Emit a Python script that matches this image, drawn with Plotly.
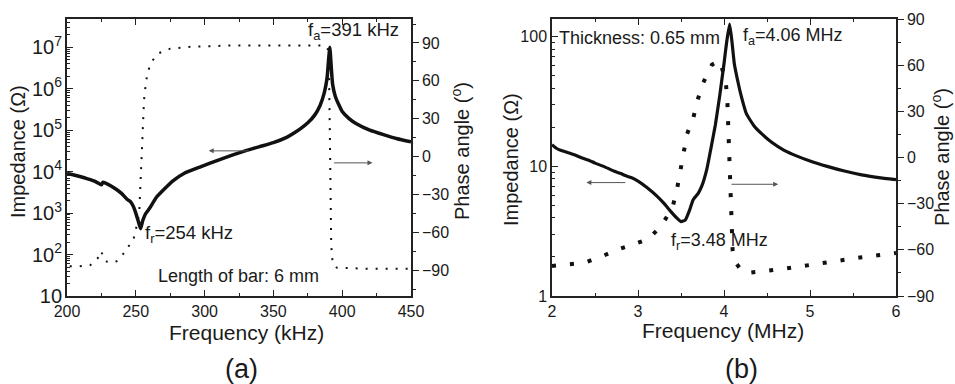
import plotly.graph_objects as go

# ---------------- data: panel (a) ----------------
freq_a_imp = [200, 205, 210, 215, 220, 224, 225, 226, 228, 232, 236, 240, 244, 246, 248, 250, 252, 253.5,
              255, 257, 260, 265, 270, 277, 285, 297, 310, 320, 330, 340, 350, 360, 365, 370, 375, 380,
              384, 387, 389, 390, 391, 392, 393, 395, 398, 400, 405, 410, 420, 430, 440, 450]
imp_a = [9000, 8300, 7500, 6700, 5900, 5000, 4800, 5500, 5300, 4500, 3700, 2900, 2100, 1900, 1500, 1000, 600, 420,
         650, 950, 1300, 2400, 3600, 6000, 9000, 13000, 19000, 25000, 32000, 40000, 50000, 68000, 85000, 110000,
         150000, 230000, 400000, 800000, 1800000, 4500000, 10000000, 3500000, 1300000, 650000, 380000, 280000,
         190000, 145000, 100000, 78000, 62000, 52000]

freq_a_ph = [202, 208, 217, 222, 224, 225, 226, 228, 232, 236, 240, 242, 244, 248, 250, 252.5, 253.3, 254.2,
             255, 256, 257.5, 259, 262, 267, 275, 290, 320, 385, 389.5, 390.5, 391, 391.5, 392, 393, 396, 420, 450]
phase_a = [-87, -87, -86, -81, -78, -75, -79, -83, -84, -83, -78, -76, -72, -67, -58, -45, -24, 0,
           25, 45, 60, 68, 76, 82, 85.5, 87, 88, 88, 86, 60, 20, -30, -70, -84, -88, -89, -89]

# ---------------- data: panel (b) ----------------
freq_b_imp = [2.0, 2.05, 2.1, 2.18, 2.26, 2.35, 2.42, 2.5, 2.6, 2.72, 2.8, 2.85, 2.92, 3.0, 3.1, 3.22, 3.3, 3.38,
              3.45, 3.5, 3.55, 3.6, 3.64, 3.7, 3.74, 3.8, 3.85, 3.9, 3.95, 3.97, 4.0, 4.03, 4.065, 4.09, 4.12,
              4.165, 4.2, 4.26, 4.35, 4.44, 4.55, 4.7, 4.85, 5.0, 5.2, 5.4, 5.6, 5.8, 6.0]
imp_b = [14.7, 13.8, 13.3, 12.8, 12.3, 11.6, 11.2, 10.6, 10.0, 9.2, 8.8, 8.5, 8.2, 7.7, 6.9, 5.9, 5.2, 4.5,
         4.0, 3.75, 3.85, 4.6, 5.5, 6.2, 7.0, 9.5, 14, 21, 35, 44, 62, 90, 125, 95, 62,
         44, 35, 25.5, 20.5, 17.8, 15.4, 13.3, 12.0, 11.0, 10.0, 9.2, 8.6, 8.2, 7.9]

freq_b_ph = [2.0, 2.17, 2.38, 2.59, 2.77, 2.95, 3.12, 3.27, 3.4, 3.45, 3.49, 3.53, 3.57, 3.64, 3.69, 3.76, 3.86,
             3.95, 4.02, 4.04, 4.05, 4.06, 4.07, 4.08, 4.1, 4.13, 4.2, 4.27, 4.49, 4.7, 4.92, 5.15, 5.36, 5.58,
             5.79, 6.0]
phase_b = [-70.5, -69.4, -68.4, -64, -59.7, -56.4, -53, -44.5, -32.6, -21.7, -8.7, 3.2, 15.2, 25, 36.8, 48.8, 60.3,
           63, 50, 35, 20, 5, -15, -40, -60, -68, -73, -75, -73.8, -72.3, -70.5, -68.4, -66.8, -65,
           -63.5, -62]

# ---------------- figure ----------------
W, H = 955, 384
FONT = "Liberation Sans, Arial, sans-serif"
TXT = "#1a1a1a"

def px(x):
    return x / W

def py(y):
    return 1 - y / H

fig = go.Figure()
fig.add_trace(go.Scatter(x=freq_a_imp, y=imp_a, mode="lines", xaxis="x", yaxis="y",
                         line=dict(color="#111111", width=3.5, shape="spline", smoothing=0.4)))
fig.add_trace(go.Scatter(x=freq_a_ph, y=phase_a, mode="lines", xaxis="x", yaxis="y2",
                         line=dict(color="#111111", width=2, dash="2px,8px")))
fig.add_trace(go.Scatter(x=freq_b_imp, y=imp_b, mode="lines", xaxis="x2", yaxis="y3",
                         line=dict(color="#111111", width=3.2, shape="spline", smoothing=0.4)))
fig.add_trace(go.Scatter(x=freq_b_ph, y=phase_b, mode="lines", xaxis="x2", yaxis="y4",
                         line=dict(color="#111111", width=4, dash="4px,14px")))

dom_a = [px(67), px(411)]
dom_b = [px(552), px(896)]
dom_y = [py(296), py(19)]

axis_common = dict(showline=True, linecolor="#222222", linewidth=1.5, showgrid=False, zeroline=False,
                   tickfont=dict(family=FONT, size=16, color=TXT), ticklen=6, tickwidth=1.2,
                   tickcolor="#222222", automargin=False)

fig.update_layout(
    width=W, height=H,
    margin=dict(l=0, r=0, t=0, b=0),
    paper_bgcolor="white", plot_bgcolor="white",
    showlegend=False,
    font=dict(family=FONT, color=TXT),
    xaxis=dict(domain=dom_a, anchor="y", range=[200, 450], dtick=50, tick0=200, ticks="inside", mirror="ticks",
               minor=dict(dtick=25, ticks="inside", ticklen=3, tickcolor="#222222"), **axis_common),
    yaxis=dict(domain=dom_y, anchor="x", type="log", range=[1, 7.68], dtick=1, exponentformat="power",
               ticks="inside", mirror=True,
               minor=dict(dtick="D1", ticks="inside", ticklen=3, tickcolor="#222222"), **axis_common),
    yaxis2=dict(domain=dom_y, anchor="x", overlaying="y", side="right", range=[-110.5, 109], dtick=30, tick0=0,
                ticks="outside", minor=dict(dtick=15, ticks="outside", ticklen=3, tickcolor="#222222"),
                **axis_common),
    xaxis2=dict(domain=dom_b, anchor="y3", range=[2, 6], dtick=1, ticks="inside", mirror="ticks",
                minor=dict(dtick=0.5, ticks="inside", ticklen=3, tickcolor="#222222"), **axis_common),
    yaxis3=dict(domain=dom_y, anchor="x2", type="log", range=[0, 2.137], dtick=1, ticks="inside", mirror=True,
                minor=dict(dtick="D1", ticks="inside", ticklen=3, tickcolor="#222222"), **axis_common),
    yaxis4=dict(domain=dom_y, anchor="x2", overlaying="y3", side="right", range=[-90, 90], dtick=30, tick0=0,
                ticks="outside", minor=dict(dtick=15, ticks="outside", ticklen=3, tickcolor="#222222"),
                **axis_common),
)

ann = []

def text(x, y, s, size=16, xanchor="left", angle=0):
    ann.append(dict(x=px(x), y=py(y), xref="paper", yref="paper", text=s, showarrow=False,
                    xanchor=xanchor, yanchor="middle", textangle=angle,
                    font=dict(family=FONT, size=size, color=TXT)))

text(306, 31, "f<sub>a</sub>=391 kHz", 18.5)
text(143, 234, "f<sub>r</sub>=254 kHz", 18.5)
text(156, 276, "Length of bar: 6 mm", 18)
text(557, 38, "Thickness: 0.65 mm", 18)
text(741, 36, "f<sub>a</sub>=4.06 MHz", 18)
text(669, 241, "f<sub>r</sub>=3.48 MHz", 18)
text(246, 332, "Frequency (kHz)", 21, "center")
text(723, 330, "Frequency (MHz)", 21, "center")
text(242, 369, "(a)", 27, "center")
text(741, 369, "(b)", 27, "center")
text(18, 152, "Impedance (Ω)", 20, "center", -90)
text(511, 160, "Impedance (Ω)", 20, "center", -90)
text(460, 151, "Phase angle (<sup>o</sup>)", 20, "center", -90)
text(940, 157, "Phase angle (<sup>o</sup>)", 20, "center", -90)

def arrow(xref, yref, x_head, y_head, x_tail, y_tail):
    ann.append(dict(x=x_head, y=y_head, ax=x_tail, ay=y_tail, xref=xref, yref=yref, axref=xref, ayref=yref,
                    showarrow=True, arrowhead=2, arrowsize=1, arrowwidth=1, arrowcolor="#555555", text=""))

arrow("x", "y2", 303, 4.5, 333, 4.5)
arrow("x", "y2", 422, -5, 393, -5)
arrow("x2", "y4", 2.40, -16.3, 2.87, -16.3)
arrow("x2", "y4", 4.63, -17.4, 4.07, -17.4)

fig.update_layout(annotations=ann)
fig.write_html("out.html", config={"displayModeBar": False},
               post_script="document.body.style.margin='0';document.body.style.overflow='hidden';")
